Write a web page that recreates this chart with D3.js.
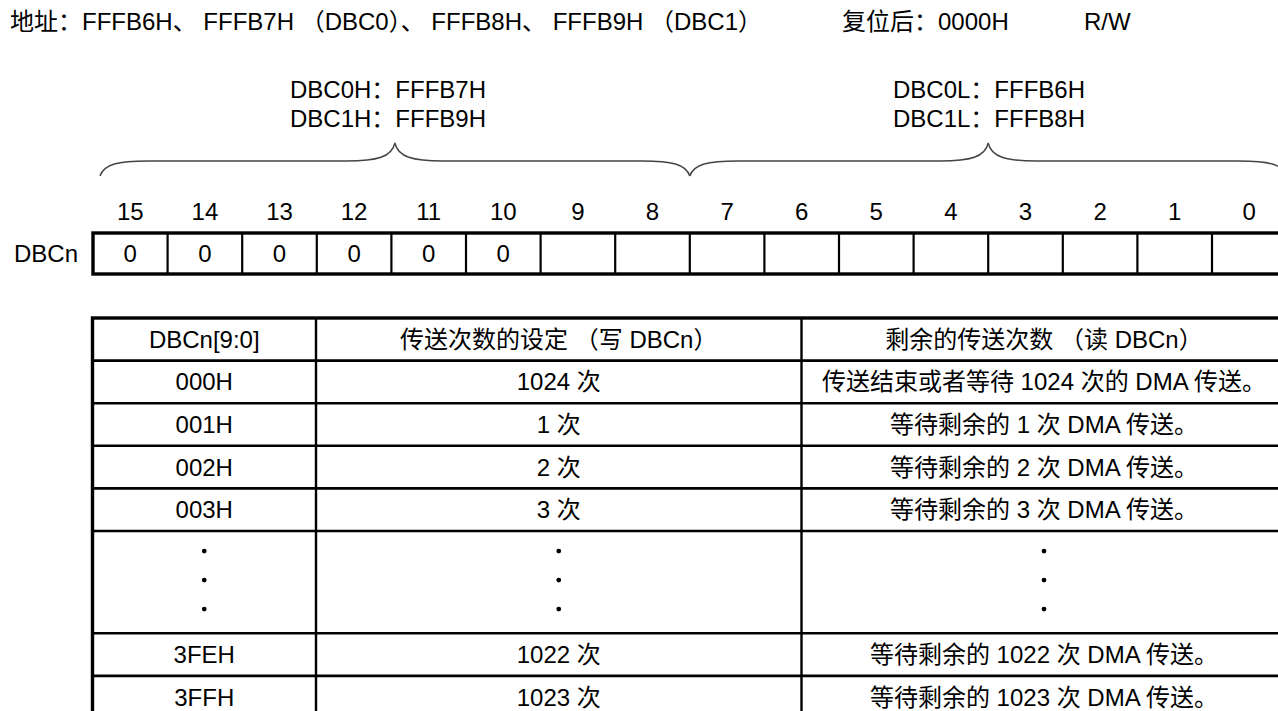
<!DOCTYPE html>
<html><head><meta charset="utf-8">
<script src="https://cdn.jsdelivr.net/npm/d3@7"></script>
<style>
html,body{margin:0;padding:0;background:#fff;}
svg text{font-family:"Liberation Sans",Arial,"Noto Sans CJK SC",sans-serif;font-size:24px;fill:#000;}
</style></head>
<body><svg id="c" width="1278" height="711"></svg>
<script>
// ---- data ----
const titleText = "地址：FFFB6H、 FFFB7H （DBC0）、 FFFB8H、 FFFB9H （DBC1）";
const resetText = "复位后：0000H";
const rwText = "R/W";
const highLabels = ["DBC0H：FFFB7H", "DBC1H：FFFB9H"];
const lowLabels = ["DBC0L：FFFB6H", "DBC1L：FFFB8H"];
const regName = "DBCn";
const bits = [15,14,13,12,11,10,9,8,7,6,5,4,3,2,1,0];
const bitValues = ["0","0","0","0","0","0","","","","","","","","","",""];
const headers = ["DBCn[9:0]", "传送次数的设定 （写 DBCn）", "剩余的传送次数 （读 DBCn）"];
const codes = ["000H","001H","002H","003H",null,"3FEH","3FFH"];
const setCounts = ["1024 次","1 次","2 次","3 次",null,"1022 次","1023 次"];
const remaining = ["传送结束或者等待 1024 次的 DMA 传送。","等待剩余的 1 次 DMA 传送。","等待剩余的 2 次 DMA 传送。","等待剩余的 3 次 DMA 传送。",null,"等待剩余的 1022 次 DMA 传送。","等待剩余的 1023 次 DMA 传送。"];

// ---- layout ----
const svg = d3.select("#c");
svg.append("rect").attr("width",1278).attr("height",711).attr("fill","#fff");
const TB = 8.5; // centre-to-baseline offset

const regLeft = 93, cellW = 74.6;
const x = d3.scaleBand().domain(bits).range([regLeft, regLeft + cellW*bits.length]).paddingInner(0).paddingOuter(0);
const regTop = 233, regBot = 274;

// Title texts
svg.append("text").attr("x",10).attr("y",21+TB).text(titleText);
svg.append("text").attr("x",842).attr("y",21+TB).text(resetText);
svg.append("text").attr("x",1084).attr("y",21+TB).text(rwText);
svg.selectAll("text.hl").data(highLabels).join("text").attr("class","hl")
  .attr("x",290).attr("y",(d,i)=>89+TB+i*29).text(d=>d);
svg.selectAll("text.ll").data(lowLabels).join("text").attr("class","ll")
  .attr("x",893).attr("y",(d,i)=>89+TB+i*29).text(d=>d);

// Braces
function brace(x0,x1,yEnd,yH,yPeak){
  const xm=(x0+x1)/2, c=48;
  return `M${x0},${yEnd} C${x0+4},${yH+3} ${x0+18},${yH} ${x0+c},${yH} L${xm-c},${yH} C${xm-18},${yH} ${xm-3},${yH-4} ${xm},${yPeak}`+
         ` C${xm+3},${yH-4} ${xm+18},${yH} ${xm+c},${yH} L${x1-c},${yH} C${x1-18},${yH} ${x1-4},${yH+3} ${x1},${yEnd}`;
}
const xHigh0 = x(15)+7, xMid = x(7), xLow1 = x(0)+cellW;
svg.append("path").attr("d",brace(xHigh0,xMid,176,161,143)).attr("fill","none").attr("stroke","#444").attr("stroke-width",1.4);
svg.append("path").attr("d",brace(xMid,xLow1,176,161,143)).attr("fill","none").attr("stroke","#444").attr("stroke-width",1.4);

// Bit numbers
svg.selectAll("text.bn").data(bits).join("text").attr("class","bn")
  .attr("x",d=>x(d)+x.bandwidth()/2).attr("y",211.5+TB).attr("text-anchor","middle").text(d=>d);

// Register cells
svg.selectAll("line.rv").data(bits.slice(1)).join("line").attr("class","rv")
  .attr("x1",d=>x(d)).attr("x2",d=>x(d)).attr("y1",regTop).attr("y2",regBot)
  .attr("stroke","#000").attr("stroke-width",2.2);
svg.append("rect").attr("x",x(15)).attr("y",regTop).attr("width",cellW*bits.length).attr("height",regBot-regTop)
  .attr("fill","none").attr("stroke","#000").attr("stroke-width",3.4);
svg.selectAll("text.bv").data(bits).join("text").attr("class","bv")
  .attr("x",d=>x(d)+x.bandwidth()/2).attr("y",(regTop+regBot)/2+TB).attr("text-anchor","middle")
  .text((d,i)=>bitValues[i]);
svg.append("text").attr("x",78).attr("y",(regTop+regBot)/2+TB).attr("text-anchor","end").text(regName);

// Table
const colEdges = [92.5, 316, 801.5, 1286.5];
const rowH = 42.6;
const rowUnits = [1,1,1,1,1,2.4,1,1];
const cum = [0]; rowUnits.forEach(u=>cum.push(cum[cum.length-1]+u));
const y = d3.scaleLinear().domain([0, cum[cum.length-1]]).range([318, 318 + rowH*cum[cum.length-1]]);

svg.selectAll("line.th").data(cum.slice(1,-1)).join("line").attr("class","th")
  .attr("x1",colEdges[0]).attr("x2",colEdges[3]).attr("y1",d=>y(d)).attr("y2",d=>y(d))
  .attr("stroke","#000").attr("stroke-width",2.6);
svg.selectAll("line.tv").data(colEdges.slice(1,3)).join("line").attr("class","tv")
  .attr("x1",d=>d).attr("x2",d=>d).attr("y1",y(0)).attr("y2",y(cum[cum.length-1]))
  .attr("stroke","#000").attr("stroke-width",2.4);
svg.append("rect").attr("x",colEdges[0]).attr("y",y(0)).attr("width",colEdges[3]-colEdges[0]).attr("height",y(cum[cum.length-1])-y(0))
  .attr("fill","none").attr("stroke","#000").attr("stroke-width",3.4);

const colCenter = i => (colEdges[i]+colEdges[i+1])/2;
const rowCenter = r => (y(cum[r])+y(cum[r+1]))/2;

svg.selectAll("text.hd").data(headers).join("text").attr("class","hd")
  .attr("x",(d,i)=>colCenter(i)).attr("y",rowCenter(0)+TB).attr("text-anchor","middle").text(d=>d);

const rows = codes.map((c,i)=>({cells:[c,setCounts[i],remaining[i]], r:i+1}));
rows.forEach(row=>{
  row.cells.forEach((t,ci)=>{
    if (t===null){
      const cy = rowCenter(row.r);
      [-29,0,29].forEach(off=>{
        svg.append("circle").attr("cx",colCenter(ci)).attr("cy",cy+off-2).attr("r",2.4).attr("fill","#000");
      });
    } else {
      svg.append("text").attr("x",colCenter(ci)).attr("y",rowCenter(row.r)+TB).attr("text-anchor","middle").text(t);
    }
  });
});
</script></body></html>
